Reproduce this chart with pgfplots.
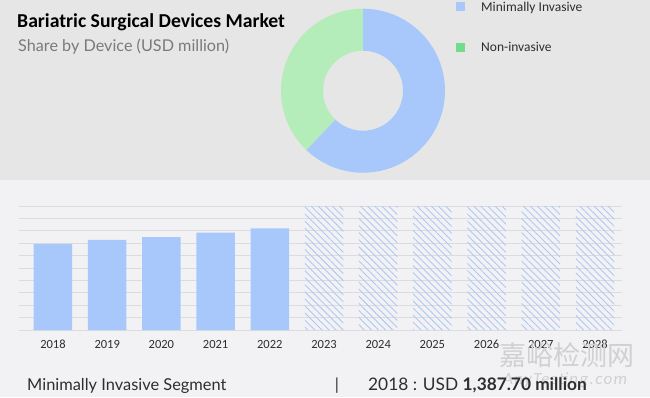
\documentclass[border=0pt]{standalone}
\usepackage{pgfplots}
\pgfplotsset{compat=1.18}
\usetikzlibrary{patterns.meta}
\usepackage{fontspec}
\setmainfont{Carlito}
\newfontfamily\lato{Lato}
\newfontfamily\cjk{Noto Sans CJK SC}
\definecolor{topbg}{HTML}{E6E6E6}
\definecolor{botbg}{HTML}{F2F2F4}
\definecolor{barblue}{HTML}{A8C8FB}
\definecolor{hatchblue}{HTML}{AFC9F2}
\definecolor{donutgreen}{HTML}{B5EDBA}
\definecolor{leggreen}{HTML}{72DC8C}
\definecolor{gridgray}{HTML}{DCDCDE}
\definecolor{subgray}{HTML}{7A7A7A}
\definecolor{txt}{HTML}{2E2E2E}
\definecolor{wm}{HTML}{D0D0D0}
\pgfplotstableread{
x year value
0 2018 1387.7
1 2019 1452
2 2020 1500
3 2021 1569
4 2022 1640
}\actual
\pgfplotstableread{
x year value
5 2023 2000
6 2024 2000
7 2025 2000
8 2026 2000
9 2027 2000
10 2028 2000
}\forecast
\def\shareMI{62.1}
\def\shareNI{37.9}
\begin{document}
\begin{tikzpicture}
% backgrounds
\fill[botbg] (0pt,0pt) rectangle (650pt,217pt);
\fill[topbg] (0pt,217pt) rectangle (650pt,397pt);
% titles
\node[anchor=base west,inner sep=0pt,text=black] at (17pt,369pt) {\fontsize{19.7}{23}\selectfont\bfseries Bariatric Surgical Devices Market};
\node[anchor=base west,inner sep=0pt,text=subgray] at (18pt,345pt) {\lato\fontsize{16.2}{19}\selectfont Share by Device (USD million)};
% donut
\pgfmathsetmacro{\angNI}{90+\shareNI*3.6}
\fill[donutgreen] (363pt,306.3pt) ++(90:82pt) arc[start angle=90,end angle=\angNI,radius=82pt] -- ++(\angNI+180:42pt) arc[start angle=\angNI,end angle=90,radius=40pt] -- cycle;
\fill[barblue] (363pt,306.3pt) ++(\angNI:82pt) arc[start angle=\angNI,end angle=450,radius=82pt] -- ++(270:42pt) arc[start angle=450,end angle=\angNI,radius=40pt] -- cycle;
% legend
\fill[barblue] (456pt,385.5pt) rectangle ++(9pt,9pt);
\node[anchor=base west,inner sep=0pt,text=txt] at (481pt,385pt) {\fontsize{13.5}{16}\selectfont Minimally Invasive};
\fill[leggreen] (456pt,344.5pt) rectangle ++(9pt,9pt);
\node[anchor=base west,inner sep=0pt,text=txt] at (481pt,345pt) {\fontsize{13.5}{16}\selectfont Non-invasive};
% bar chart
\begin{axis}[
  at={(19pt,67pt)}, anchor=south west,
  width=603pt, height=124pt, scale only axis,
  xmin=-0.627, xmax=10.498, ymin=0, ymax=2000,
  axis line style={draw=none},
  ytick={0,200,...,2000}, yticklabels={},
  major tick length=0pt,
  ymajorgrids, grid style={gridgray, line width=0.8pt},
  xtick={0,...,10},
  xticklabels={2018,2019,2020,2021,2022,2023,2024,2025,2026,2027,2028},
  xticklabel style={text=txt, font=\fontsize{12.5}{14}\selectfont, yshift=-6.5pt},
  clip=false,
]
\addplot[ybar, bar width=38.5pt, bar shift=0pt, fill=barblue, draw=none] table[x=x,y=value] {\actual};
\addplot[ybar, bar width=38.5pt, bar shift=0pt, draw=none, pattern={Lines[angle=-45,distance=5pt,line width=0.9pt]}, pattern color=hatchblue] table[x=x,y=value] {\forecast};
\end{axis}
% watermark
\node[anchor=base west,inner sep=0pt,text=wm] at (499pt,32pt) {\cjk\fontsize{27}{30}\selectfont 嘉峪检测网};
\node[anchor=base west,inner sep=0pt,text=wm] at (503pt,13pt) {\fontsize{17}{20}\selectfont\itshape\addfontfeatures{LetterSpace=8} AnyTesting.com};
% bottom line
\node[anchor=base west,inner sep=0pt,text=txt] at (27pt,6.5pt) {\lato\fontsize{16.4}{19}\selectfont Minimally Invasive Segment};
\node[anchor=base,inner sep=0pt,text=txt] at (337pt,6.5pt) {\lato\fontsize{16.4}{19}\selectfont |};
\node[anchor=base west,inner sep=0pt,text=txt] at (368pt,6.5pt) {\lato\fontsize{17.3}{20}\selectfont 2018 : USD \textbf{1,387.70 million}};
\end{tikzpicture}
\end{document}
